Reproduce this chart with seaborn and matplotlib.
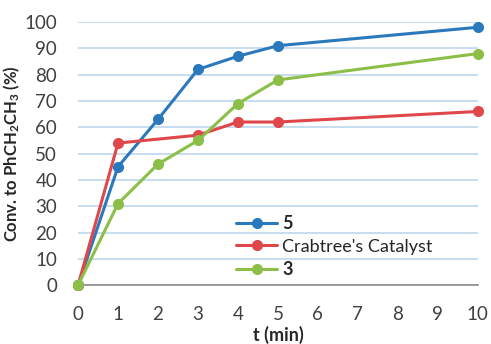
import pandas as pd
import numpy as np
import matplotlib.pyplot as plt
import seaborn as sns

# data (red series has no point at t = 2)
t_5 = [0, 1, 2, 3, 4, 5, 10]
conv_5 = [0, 45, 63, 82, 87, 91, 98]
t_crabtree = [0, 1, 3, 4, 5, 10]
conv_crabtree = [0, 54, 57, 62, 62, 66]
t_3 = [0, 1, 2, 3, 4, 5, 10]
conv_3 = [0, 31, 46, 55, 69, 78, 88]
series_names = ["5", "Crabtree's Catalyst", "3"]
colors = ["#2B79BD", "#E0474A", "#8CBF47"]

df = pd.concat([
    pd.DataFrame({"t": t_5, "conv": conv_5, "series": series_names[0]}),
    pd.DataFrame({"t": t_crabtree, "conv": conv_crabtree, "series": series_names[1]}),
    pd.DataFrame({"t": t_3, "conv": conv_3, "series": series_names[2]}),
], ignore_index=True)

sns.set_style("white")
plt.rcParams['font.family'] = ['Lato', 'DejaVu Sans']
plt.rcParams['mathtext.default'] = 'regular'

fig = plt.figure(figsize=(4.91, 3.44), dpi=100)
ax = fig.add_axes([0.159, 0.171, 0.814, 0.765])

sns.lineplot(data=df, x="t", y="conv", hue="series", hue_order=series_names,
             palette=colors, marker="o", markersize=8, markeredgewidth=0,
             linewidth=2.2, ax=ax, clip_on=False, zorder=3)

ax.set_xlim(0, 10)
ax.set_ylim(0, 100)
ax.set_xticks(range(0, 11))
ax.set_yticks(range(0, 101, 10))
ax.yaxis.grid(True, color="#BDD7EE", linewidth=1.2)
ax.xaxis.grid(False)
for s in ["top", "right", "left"]:
    ax.spines[s].set_visible(False)
ax.spines["bottom"].set_color("#8C8C8C")
ax.spines["bottom"].set_linewidth(1.2)
ax.tick_params(axis="both", length=0, labelsize=13.5, labelcolor="#404040")
ax.tick_params(axis="x", pad=15)
ax.tick_params(axis="y", pad=15)

ax.set_xlabel("t (min)", fontsize=13, fontweight="bold", labelpad=2)
ax.set_ylabel("Conv. to PhCH$_2$CH$_3$ (%)", fontsize=12, fontweight="bold", labelpad=2)

leg = ax.legend(loc="upper left", bbox_to_anchor=(0.395, 0.265), frameon=False,
                fontsize=13, handlelength=2.3, handletextpad=0.25, labelspacing=0.35,
                borderpad=0, borderaxespad=0)
for txt in leg.get_texts():
    txt.set_color("#262626")
    if txt.get_text() in ("5", "3"):
        txt.set_fontweight("bold")

fig.savefig("out.png", dpi=100)
